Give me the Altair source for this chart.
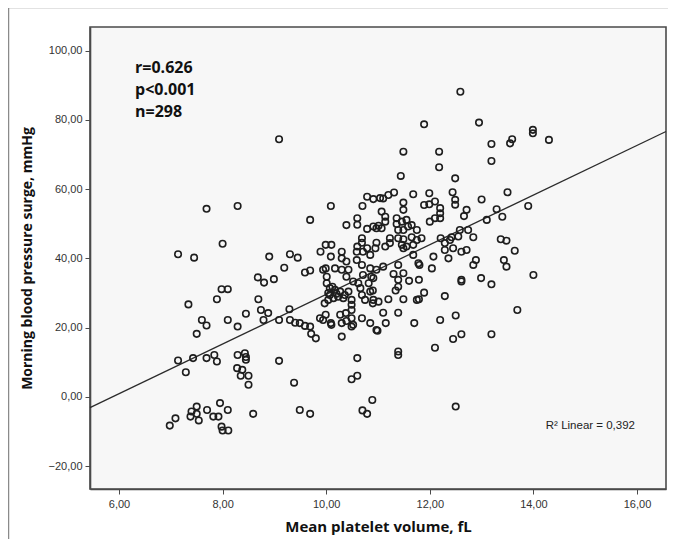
import altair as alt
import pandas as pd

# Mean platelet volume (fL) and morning blood pressure surge (mmHg)
mpv = [
    7.14, 7.45, 8.00, 7.69, 8.29, 9.09, 8.90, 9.30, 9.45, 9.19, 9.59, 9.69, 8.68, 8.80, 8.99,
    7.98, 8.10, 7.34, 7.89, 8.69, 8.74, 8.88, 8.45, 7.60, 7.69, 8.10, 8.29, 7.50, 8.79, 9.09,
    9.29, 9.30, 9.40, 9.49, 9.59, 9.69, 9.71, 9.80, 7.14, 7.43, 7.69, 7.84, 7.89, 7.29, 8.29,
    8.43, 8.45, 8.45, 8.28, 8.38, 8.35, 8.50, 8.50, 9.09, 9.38, 6.98, 7.09, 7.38, 7.50, 7.50,
    7.54, 7.40, 7.70, 7.82, 7.92, 7.95, 8.10, 7.98, 8.00, 8.11, 8.59, 9.49, 9.69, 9.69, 10.09,
    # middle
    9.89, 9.99, 10.09, 9.99, 9.88, 9.99, 10.09, 9.97, 10.10, 10.30, 10.30, 9.94, 10.01, 10.17,
    10.30, 10.39, 10.43, 10.39, 10.01, 10.07, 10.07, 10.17, 10.27, 10.23, 10.36, 10.43, 10.14,
    10.33, 10.49, 10.49, 10.49, 10.38, 10.69, 10.66, 10.75, 10.85, 10.91, 10.82, 10.62, 10.52,
    10.71, 10.87, 10.97, 10.59, 10.69, 10.85, 10.59, 10.71, 10.85, 10.79, 10.95, 9.94, 10.10,
    10.27, 10.30, 10.49, 10.52, 10.69, 10.85, 10.30, 10.49, 10.97, 10.39, 10.60, 10.49, 10.60,
    10.89, 10.70, 10.79, 10.70, 10.79, 10.91, 11.04, 10.39, 10.60, 10.60, 10.79, 10.91, 11.01,
    10.69, 10.69, 10.60, 10.97, 10.04, 10.12, 10.20, 10.04,
    # 11 - 12
    11.10, 11.15, 10.99, 11.49, 11.44, 11.68, 11.99, 11.10, 11.20, 11.31, 11.49, 11.49, 11.89,
    11.99, 11.07, 11.14, 10.97, 11.07, 11.14, 11.36, 11.36, 11.46, 11.55, 11.58, 11.49, 11.65,
    11.75, 11.39, 11.39, 11.49, 11.65, 11.75, 11.84, 11.68, 11.55, 11.46, 11.23, 11.23, 11.14,
    11.80, 11.49, 11.39, 11.30, 11.79, 11.60, 11.39, 11.89, 11.79, 11.49, 11.34, 11.20, 11.01,
    10.90, 10.90, 10.91, 11.39, 11.10, 11.78, 11.68, 11.49, 11.75, 11.70, 11.39, 11.39, 11.39,
    11.89,
    # 12 and above
    12.18, 12.18, 12.49, 12.44, 12.49, 12.49, 12.10, 12.20, 12.20, 12.20, 12.71, 12.66, 12.00,
    12.10, 12.21, 12.42, 12.58, 12.55, 12.74, 12.29, 12.39, 12.59, 12.95, 13.99, 13.99, 14.30,
    13.59, 13.55, 13.19, 13.19, 13.50, 13.00, 13.90, 13.29, 13.40, 13.10, 12.84, 13.37, 13.48,
    13.64, 12.89, 12.84, 13.43, 13.48, 14.00, 12.29, 12.45, 12.61, 12.71, 12.36, 12.07, 12.04,
    12.61, 12.61, 12.99, 13.19, 13.69, 12.61, 13.19, 12.45, 12.50, 12.20, 12.10, 12.29, 12.50,
]
mbps = [
    41.2, 40.2, 44.2, 54.3, 55.1, 74.4, 40.5, 41.2, 40.2, 37.3, 35.9, 36.5, 34.5, 33.0, 34.0,
    31.1, 31.1, 26.7, 28.2, 28.2, 25.1, 24.2, 24.0, 22.2, 20.6, 22.2, 20.3, 18.2, 22.2, 22.2,
    25.3, 22.2, 21.4, 21.3, 20.5, 20.3, 18.2, 16.9, 10.5, 11.2, 11.2, 12.1, 10.2, 7.1, 12.1,
    12.6, 11.5, 10.7, 8.3, 7.8, 6.1, 6.1, 3.5, 10.4, 4.1, -8.3, -6.2, -5.7, -2.8, -4.9,
    -6.8, -4.2, -3.8, -5.7, -5.7, -1.8, -3.8, -8.6, -9.7, -9.7, -4.9, -3.8, -4.9, 51.1, 55.1,
    # middle
    41.9, 43.9, 40.5, 37.1, 22.7, 23.7, 21.3, 27.0, 43.9, 41.9, 40.0, 36.7, 34.7, 37.1,
    36.7, 39.1, 36.7, 34.7, 32.8, 31.4, 29.4, 30.9, 30.4, 28.9, 29.4, 30.4, 28.5,
    28.5, 28.0, 26.6, 25.1, 24.2, 29.4, 31.4, 28.0, 30.4, 28.0, 32.8, 32.8, 33.3,
    35.2, 34.7, 36.7, 39.5, 38.1, 37.1, 41.9, 41.9, 41.0, 42.9, 42.9, 22.2, 20.8,
    23.7, 21.3, 22.7, 20.8, 22.7, 21.3, 17.4, 20.3, 19.3, 21.9, 11.2, 5.1, 6.1,
    -0.9, -3.9, -4.9, 55.1, 57.8, 57.1, 57.4, 49.6, 51.6, 49.7, 48.5, 49.2, 49.4,
    45.8, 44.5, 43.4, 44.5, 30.0, 31.8, 29.8, 28.0,
    # 11 - 12
    24.3, 21.3, 19.1, 70.8, 63.8, 58.5, 58.8, 57.3, 58.3, 59.0, 56.1, 54.0, 55.4,
    55.6, 53.5, 52.0, 48.7, 48.7, 50.6, 51.6, 49.9, 50.6, 51.1, 49.2, 48.2, 49.6,
    48.2, 48.2, 45.8, 45.5, 46.1, 45.3, 45.8, 43.9, 43.4, 43.9, 45.8, 44.4, 43.4,
    38.1, 35.7, 38.1, 35.5, 33.8, 33.5, 33.8, 30.1, 28.2, 28.2, 30.7, 28.2, 27.5,
    27.0, 30.7, 34.3, 31.8, 37.6, 38.6, 41.0, 42.9, 28.0, 21.3, 24.3, 13.1, 12.1,
    78.7,
    # 12 and above
    70.8, 66.3, 63.1, 59.1, 56.9, 55.5, 56.4, 54.5, 53.0, 51.6, 54.0, 52.2, 50.6,
    51.6, 45.8, 46.1, 48.2, 46.3, 48.2, 44.4, 45.3, 88.1, 79.2, 77.1, 76.1, 74.2,
    74.4, 73.2, 73.0, 68.1, 59.1, 57.0, 55.1, 54.2, 52.0, 51.1, 46.1, 45.5, 45.1,
    42.2, 39.5, 38.1, 39.5, 37.6, 35.2, 42.4, 42.9, 41.9, 42.4, 40.0, 40.5, 37.1,
    33.8, 33.3, 34.3, 32.5, 25.1, 18.1, 18.1, 16.7, 23.5, 22.2, 14.2, 29.1, -2.8,
]

x_ticks = [6, 8, 10, 12, 14, 16]
y_ticks = [-20, 0, 20, 40, 60, 80, 100]
x_domain = [5.44, 16.56]
y_domain = [-26.6, 106.8]

fit_intercept = -42.1
fit_slope = 7.17

stats_lines = ["r=0.626", "p<0.001", "n=298"]
r2_label = "R\u00b2 Linear = 0,392"

n = min(len(mpv), len(mbps))
df = pd.DataFrame({"mpv": mpv[:n], "mbps": mbps[:n]})
fit_df = pd.DataFrame({"mpv": x_domain,
                       "mbps": [fit_intercept + fit_slope * v for v in x_domain]})
stats_df = pd.DataFrame({"label": ["\n".join(stats_lines)]})

W, H = 576, 462

x_scale = alt.Scale(domain=x_domain, nice=False, zero=False)
y_scale = alt.Scale(domain=y_domain, nice=False, zero=False)

label_expr = "replace(format(datum.value, '.2f'), '.', ',')"

x_axis = alt.Axis(values=x_ticks, labelExpr=label_expr, title="Mean platelet volume, fL",
                  grid=False, tickSize=5, labelPadding=4, titlePadding=10, titleFontSize=15)
y_axis = alt.Axis(values=y_ticks, labelExpr=label_expr,
                  title="Morning blood pressure surge, mmHg",
                  grid=False, tickSize=5, labelPadding=3, titlePadding=14, titleFontSize=14)

points = alt.Chart(df).mark_point(
    shape="circle", filled=False, size=42, strokeWidth=1.6, color="#1e1e1e", opacity=1
).encode(
    x=alt.X("mpv:Q", scale=x_scale, axis=x_axis),
    y=alt.Y("mbps:Q", scale=y_scale, axis=y_axis),
)

fit = alt.Chart(fit_df).mark_line(color="#2b2b2b", strokeWidth=1.3).encode(
    x=alt.X("mpv:Q", scale=x_scale, axis=x_axis),
    y=alt.Y("mbps:Q", scale=y_scale, axis=y_axis),
)

stats = alt.Chart(stats_df).mark_text(
    align="left", baseline="middle", font="Open Sans", fontSize=16, fontWeight="bold",
    color="#111111", lineBreak="\n", lineHeight=22
).encode(
    x=alt.value(45),
    y=alt.value(41),
    text="label:N",
)

r2 = alt.Chart(pd.DataFrame({"t": [r2_label]})).mark_text(
    align="right", baseline="middle", font="Liberation Sans", fontSize=11.5, color="#222222"
).encode(x=alt.value(545), y=alt.value(399), text="t:N")

frame_top = alt.Chart(pd.DataFrame({"a": [0]})).mark_rule(color="#8a8a8a", strokeWidth=1.5).encode(
    x=alt.value(-82), x2=alt.value(W + 4), y=alt.value(-19.5)
)
frame_left = alt.Chart(pd.DataFrame({"a": [0]})).mark_rule(color="#8a8a8a", strokeWidth=1.5).encode(
    x=alt.value(-81.5), y=alt.value(-20), y2=alt.value(H + 60)
)

chart = alt.layer(frame_top, frame_left, fit, points, stats, r2).properties(
    width=W, height=H,
    autosize=alt.AutoSizeParams(type="none"),
    padding={"left": 82, "top": 19, "right": 2, "bottom": 50},
).configure_view(
    fill="#f7f7f7", stroke="#4a4a4a", strokeWidth=1.6
).configure_axis(
    domainColor="#4a4a4a", domainWidth=1.6, tickColor="#4a4a4a",
    labelFont="Liberation Sans", labelFontSize=11, labelColor="#333333",
    titleFont="Open Sans", titleFontWeight="bold", titleColor="#111111",
)

chart.save("out.html", embed_options={"renderer": "svg", "actions": False})
